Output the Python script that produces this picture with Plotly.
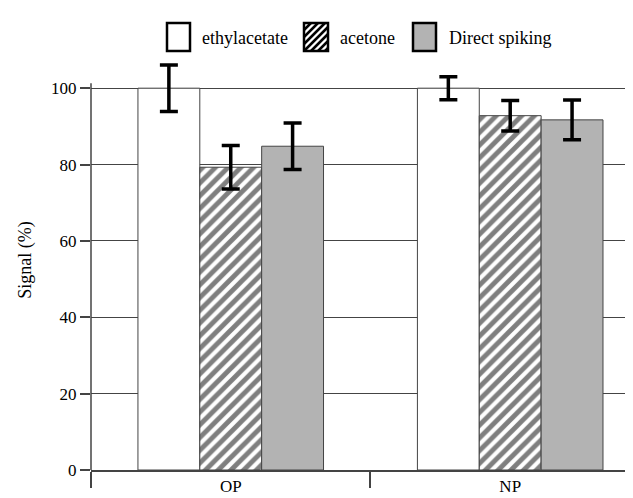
import plotly.graph_objects as go

categories = ["OP", "NP"]
series_names = ["ethylacetate", "acetone", "Direct spiking"]
ethyl_vals = [100, 100]
ethyl_err = [6.1, 3.0]
acetone_vals = [79.3, 92.8]
acetone_err = [5.7, 4.0]
direct_vals = [84.8, 91.7]
direct_err = [6.1, 5.2]
y_ticks = [0, 20, 40, 60, 80, 100]

FONT = "Liberation Serif"
AXC = "#444444"
err_style = dict(type="data", visible=True, color="black", thickness=3.5, width=9)
outline = dict(color=AXC, width=1)

W, H = 633, 498
Y_TOP = 110.0          # axis range top (room for error bars)
AXIS_TOP = 101.3       # where the visible y-axis line stops
PX_PER_UNIT = 3.82
L, R, B = 83, 0, 36
T = round(H - B - Y_TOP * PX_PER_UNIT)

fig = go.Figure()
fig.add_trace(go.Bar(
    name=series_names[0], x=categories, y=ethyl_vals,
    error_y=dict(array=ethyl_err, **err_style),
    marker=dict(color="white", line=outline),
))
fig.add_trace(go.Bar(
    name=series_names[1], x=categories, y=acetone_vals,
    error_y=dict(array=acetone_err, **err_style),
    marker=dict(color="white", line=outline,
                pattern=dict(shape="/", fgcolor="black", bgcolor="white", size=9, solidity=0.55)),
))
fig.add_trace(go.Bar(
    name=series_names[2], x=categories, y=direct_vals,
    error_y=dict(array=direct_err, **err_style),
    marker=dict(color="#b3b3b3", line=outline),
))

# ---- custom legend (decoration) in pixel space converted to paper coords ----
pw, ph = W - L - R, H - T - B
def px(x):
    return (x - L) / pw
def py(y):
    return (H - B - y) / ph

shapes = []
# visible y-axis line (stops just above 100)
shapes.append(dict(type="line", xref="paper", yref="y", x0=0, x1=0, y0=0, y1=AXIS_TOP,
                   line=dict(color=AXC, width=1.5), layer="above"))

boxes = [(159, 182, "white"), (296, 320, "white"), (405, 428, "#b3b3b3")]
by0, by1 = 15, 43
for (x0, x1, col) in boxes:
    shapes.append(dict(type="rect", xref="paper", yref="paper",
                       x0=px(x0), x1=px(x1), y0=py(by1), y1=py(by0),
                       fillcolor=col, line=dict(color="black", width=0), layer="above"))
hx0, hx1 = boxes[1][0], boxes[1][1]
step = 7
for c in range(-(by1 - by0), (hx1 - hx0) + 1, step):
    t0 = max(0, -c)
    t1 = min(by1 - by0, (hx1 - hx0) - c)
    if t1 - t0 < 2:
        continue
    shapes.append(dict(type="line", xref="paper", yref="paper",
                       x0=px(hx0 + c + t0), y0=py(by1 - t0),
                       x1=px(hx0 + c + t1), y1=py(by1 - t1),
                       line=dict(color="black", width=2.5), layer="above"))
for (x0, x1, col) in boxes:
    shapes.append(dict(type="rect", xref="paper", yref="paper",
                       x0=px(x0), x1=px(x1), y0=py(by1), y1=py(by0),
                       line=dict(color="black", width=2.5), layer="above"))

text_x = [192, 330, 439]
annotations = [dict(text=name, xref="paper", yref="paper", x=px(tx), y=py(30),
                    xanchor="left", yanchor="middle", showarrow=False,
                    font=dict(family=FONT, size=18, color="black"))
               for name, tx in zip(series_names, text_x)]

fig.update_layout(
    width=W, height=H,
    margin=dict(l=L, r=R, t=T, b=B, autoexpand=False),
    paper_bgcolor="white", plot_bgcolor="white",
    barmode="group", bargap=0.336, bargroupgap=0,
    font=dict(family=FONT, size=17, color="black"),
    showlegend=False,
    shapes=shapes, annotations=annotations,
    xaxis=dict(
        type="category", range=[-0.5, 1.468],
        showline=True, linecolor=AXC, linewidth=1.5,
        ticks="outside", tickson="boundaries", ticklen=16, tickcolor=AXC, tickwidth=1.5,
        showgrid=False, tickfont=dict(family=FONT, size=17), automargin=False,
    ),
    yaxis=dict(
        range=[0, Y_TOP], tickvals=y_ticks,
        showline=False,
        ticks="outside", ticklen=10, tickcolor=AXC, tickwidth=1.5,
        showgrid=True, gridcolor=AXC, gridwidth=1.2,
        zeroline=False, automargin=False,
        title=dict(text="Signal (%)", font=dict(family=FONT, size=18), standoff=14),
        tickfont=dict(family=FONT, size=17),
    ),
)

fig.write_html("out.html")
